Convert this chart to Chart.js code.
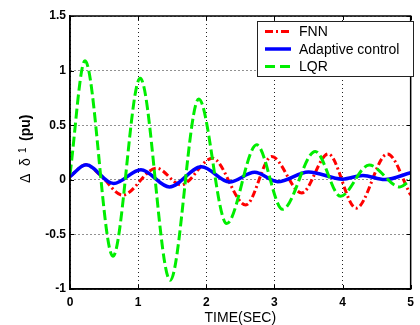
<!DOCTYPE html>
<html>
<head>
<meta charset="utf-8">
<script src="https://cdn.jsdelivr.net/npm/chart.js@4/dist/chart.umd.min.js"></script>
<style>
  html, body { margin: 0; padding: 0; background: #fff; }
  #wrap { width: 420px; height: 325px; position: relative; }
</style>
</head>
<body>
<div id="wrap"><canvas id="chart"></canvas></div>
<script>
// ---- data ----
const xTicks = [0, 1, 2, 3, 4, 5];
const xTickLabels = ['0', '1', '2', '3', '4', '5'];
const yTicks = [-1, -0.5, 0, 0.5, 1, 1.5];
const yTickLabels = ['-1', '-0.5', '0', '0.5', '1', '1.5'];

// FNN (red dash-dot)
const fnnT = [0, 0.235, 0.45, 0.77, 1.27, 1.63, 2.09, 2.58, 2.96, 3.40, 3.79, 4.20, 4.66, 5.0];
const fnnV = [0.03, 0.137, 0.04, -0.14, 0.107, -0.046, 0.198, -0.23, 0.213, -0.12, 0.237, -0.26, 0.237, -0.14];

// Adaptive control (blue solid)
const adaT = [0, 0.235, 0.64, 1.04, 1.46, 1.93, 2.34, 2.71, 3.05, 3.50, 4.00, 4.30, 4.62, 5.0];
const adaV = [0.03, 0.137, -0.035, 0.092, -0.065, 0.12, -0.02, 0.068, -0.017, 0.072, 0.006, 0.04, 0.002, 0.065];

// LQR (green dashed)
const lqrT = [0, 0.22, 0.63, 1.03, 1.47, 1.89, 2.30, 2.74, 3.12, 3.60, 3.97, 4.39, 4.84, 5.0];
const lqrV = [0.05, 1.09, -0.70, 0.93, -0.92, 0.74, -0.40, 0.32, -0.27, 0.26, -0.15, 0.135, -0.065, 0.0];

const toPts = (t, v) => t.map((x, i) => ({ x: x, y: v[i] }));

const RED = '#ff0000', BLUE = '#0000ff', GREEN = '#00ee00';
const FONT = "'Liberation Sans', Arial, sans-serif";

const legendItems = [
  { label: 'FNN', color: RED, dash: [8, 3, 2, 3], width: 3 },
  { label: 'Adaptive control', color: BLUE, dash: [], width: 3.5 },
  { label: 'LQR', color: GREEN, dash: [10, 5], width: 3 },
];

// frame, inward ticks, titles, legend (MATLAB look)
const decor = {
  id: 'decor',
  afterDraw(chart) {
    const ctx = chart.ctx;
    const a = chart.chartArea;
    const xs = chart.scales.x, ys = chart.scales.y;
    ctx.save();
    ctx.strokeStyle = '#000';
    ctx.lineWidth = 1.5;
    ctx.setLineDash([]);
    ctx.strokeRect(a.left, a.top, a.right - a.left, a.bottom - a.top);

    // inward tick marks
    ctx.lineWidth = 1;
    ctx.beginPath();
    xTicks.forEach(v => {
      const px = Math.round(xs.getPixelForValue(v)) + 0.5;
      ctx.moveTo(px, a.bottom); ctx.lineTo(px, a.bottom - 4);
      ctx.moveTo(px, a.top); ctx.lineTo(px, a.top + 4);
    });
    yTicks.forEach(v => {
      const py = Math.round(ys.getPixelForValue(v)) + 0.5;
      ctx.moveTo(a.left, py); ctx.lineTo(a.left + 4, py);
      ctx.moveTo(a.right, py); ctx.lineTo(a.right - 4, py);
    });
    ctx.stroke();

    // x title
    ctx.fillStyle = '#000';
    ctx.font = '14px ' + FONT;
    ctx.textAlign = 'center';
    ctx.textBaseline = 'middle';
    ctx.fillText('TIME(SEC)', (a.left + a.right) / 2, 318);

    // y title with subscript
    ctx.save();
    ctx.translate(30, 183);
    ctx.rotate(-Math.PI / 2);
    ctx.textAlign = 'left';
    ctx.textBaseline = 'alphabetic';
    ctx.font = '14px ' + FONT;
    ctx.fillText('Δ', 0, 0);
    ctx.fillText('δ', 17, 0);
    ctx.font = '10px ' + FONT;
    ctx.fillText('1', 30, -4);
    ctx.font = 'bold 14px ' + FONT;
    ctx.fillText('(pu)', 42, 0);
    ctx.restore();

    // legend box
    const bx = 257, by = 21, bw = 156, bh = 55;
    ctx.fillStyle = '#fff';
    ctx.fillRect(bx, by, bw, bh);
    ctx.strokeStyle = '#222';
    ctx.lineWidth = 1;
    ctx.strokeRect(bx + 0.5, by + 0.5, bw, bh);
    ctx.font = '14px ' + FONT;
    ctx.textAlign = 'left';
    ctx.textBaseline = 'middle';
    legendItems.forEach((it, i) => {
      const y = 31.5 + i * 17.5;
      ctx.strokeStyle = it.color;
      ctx.lineWidth = it.width;
      ctx.setLineDash(it.dash);
      ctx.beginPath();
      ctx.moveTo(265, y); ctx.lineTo(291, y);
      ctx.stroke();
      ctx.setLineDash([]);
      ctx.fillStyle = '#000';
      ctx.fillText(it.label, 299, y + 1);
    });
    ctx.restore();
  }
};

new Chart(document.getElementById('chart'), {
  type: 'line',
  data: {
    datasets: [
      {
        label: 'LQR',
        data: toPts(lqrT, lqrV),
        borderColor: GREEN, borderWidth: 3, borderDash: [10, 4],
        pointRadius: 0, fill: false, cubicInterpolationMode: 'monotone',
      },
      {
        label: 'Adaptive control',
        data: toPts(adaT, adaV),
        borderColor: BLUE, borderWidth: 3.5,
        pointRadius: 0, fill: false, cubicInterpolationMode: 'monotone',
      },
      {
        label: 'FNN',
        data: toPts(fnnT, fnnV),
        borderColor: RED, borderWidth: 3, borderDash: [7, 3, 2, 3],
        pointRadius: 0, fill: false, cubicInterpolationMode: 'monotone',
      },
    ]
  },
  options: {
    responsive: true,
    maintainAspectRatio: false,
    animation: false,
    devicePixelRatio: 1,
    layout: { padding: { left: 0, right: 4, top: 16, bottom: 0 } },
    plugins: { legend: { display: false }, tooltip: { enabled: false } },
    scales: {
      x: {
        type: 'linear', min: 0, max: 5,
        afterBuildTicks: s => { s.ticks = xTicks.map(v => ({ value: v })); },
        afterFit: s => { s.height = 36; },
        ticks: {
          color: '#000', padding: 6,
          font: { family: FONT, size: 12, weight: 'bold' },
          callback: v => xTickLabels[xTicks.indexOf(v)],
        },
        grid: { color: '#222', lineWidth: 1, drawTicks: false },
        border: { display: true, color: '#000', width: 1.5, dash: [1, 3] },
      },
      y: {
        type: 'linear', min: -1, max: 1.5,
        afterBuildTicks: s => { s.ticks = yTicks.map(v => ({ value: v })); },
        afterFit: s => { s.width = 70; },
        ticks: {
          color: '#000', padding: 4,
          font: { family: FONT, size: 12, weight: 'bold' },
          callback: v => yTickLabels[yTicks.indexOf(v)],
        },
        grid: { color: '#222', lineWidth: 1, drawTicks: false },
        border: { display: true, color: '#000', width: 1.5, dash: [1, 3] },
      }
    }
  },
  plugins: [decor]
});
</script>
</body>
</html>
